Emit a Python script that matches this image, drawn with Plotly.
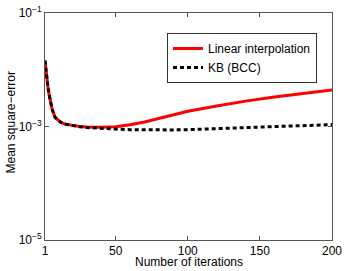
import plotly.graph_objects as go

iterations = [1, 2, 3, 4, 5, 6, 8, 10, 12, 15, 20, 25, 30, 35, 40, 50, 60, 70, 80, 90, 100, 120, 140, 160, 180, 200]
linear_mse = [1.45e-2, 8e-3, 5.0e-3, 3.5e-3, 2.6e-3, 2.0e-3, 1.45e-3, 1.28e-3, 1.18e-3, 1.1e-3, 1.04e-3, 1.0e-3, 9.8e-4, 9.7e-4, 9.7e-4,
              9.9e-4, 1.07e-3, 1.2e-3, 1.38e-3, 1.6e-3, 1.85e-3, 2.3e-3, 2.8e-3, 3.3e-3, 3.8e-3, 4.4e-3]
kb_mse = [1.45e-2, 8e-3, 5.0e-3, 3.5e-3, 2.6e-3, 2.0e-3, 1.45e-3, 1.28e-3, 1.18e-3, 1.1e-3, 1.03e-3, 9.9e-4, 9.6e-4, 9.4e-4, 9.2e-4,
          9.0e-4, 8.8e-4, 8.7e-4, 8.7e-4, 8.7e-4, 8.8e-4, 9.2e-4, 9.6e-4, 1.0e-3, 1.04e-3, 1.08e-3]
x_ticks = [1, 50, 100, 150, 200]
y_ticks = [1e-5, 1e-3, 1e-1]
y_tick_labels = ["10<sup>−5</sup>", "10<sup>−3</sup>", "10<sup>−1</sup>"]
x_title = "Number of iterations"
y_title = "Mean square−error"

FONT = "Liberation Sans"
axis_common = dict(showgrid=False, zeroline=False, showline=True, linecolor="#555555", linewidth=1,
                   mirror="ticks", ticks="inside", ticklen=4, tickcolor="#555555", automargin=False,
                   tickfont=dict(family=FONT, size=12, color="#000000"))

fig = go.Figure()
fig.add_trace(go.Scatter(x=iterations, y=linear_mse, mode="lines", name="Linear interpolation",
                         line=dict(color="#ff0000", width=3)))
fig.add_trace(go.Scatter(x=iterations, y=kb_mse, mode="lines", name="KB (BCC)",
                         line=dict(color="#000000", width=3, dash="4px,3px")))

fig.update_xaxes(range=[1, 200], tickvals=x_ticks, ticktext=[str(v) for v in x_ticks], **axis_common)
fig.update_yaxes(type="log", range=[-5, -1], tickvals=y_ticks, ticktext=y_tick_labels, **axis_common)

fig.add_annotation(text=x_title, xref="paper", yref="paper", x=0.5, y=0, yshift=-13,
                   xanchor="center", yanchor="top", showarrow=False,
                   font=dict(family=FONT, size=12, color="#000"))
fig.add_annotation(text=y_title, xref="paper", yref="paper", x=0, y=0.5, xshift=-35, yshift=4,
                   xanchor="center", yanchor="middle", showarrow=False, textangle=-90,
                   font=dict(family=FONT, size=12, color="#000"))

fig.update_layout(
    width=346, height=271,
    margin=dict(l=45, r=14, t=13, b=31),
    paper_bgcolor="white", plot_bgcolor="white",
    showlegend=True,
    legend=dict(x=0.425, y=0.912, xanchor="left", yanchor="top", bgcolor="white",
                bordercolor="#333333", borderwidth=1, font=dict(family=FONT, size=12, color="#000"),
                itemwidth=30, tracegroupgap=0),
)

fig.write_html("out.html", config={"displayModeBar": False},
               post_script="document.body.style.margin='0';document.body.style.padding='0';")
